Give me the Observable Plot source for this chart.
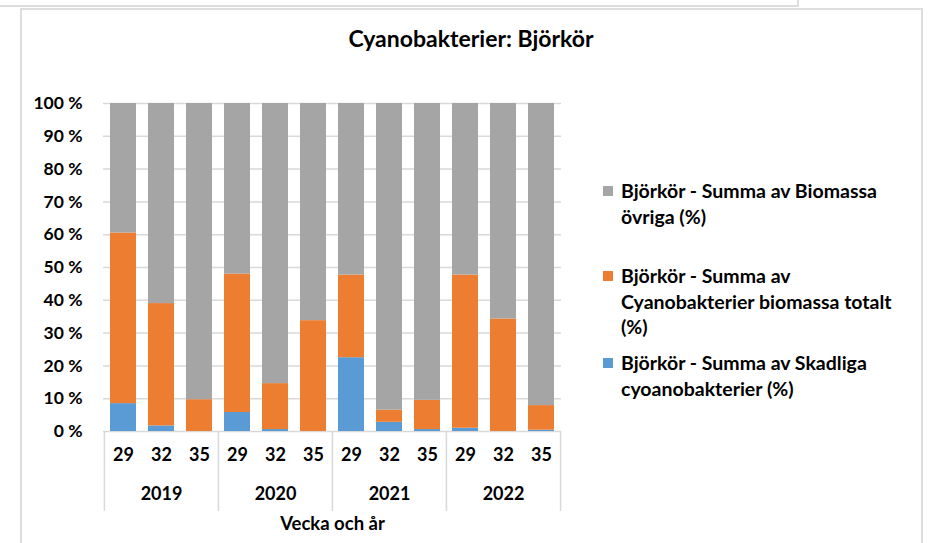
<!DOCTYPE html>
<html>
<head>
<meta charset="utf-8">
<script src="https://cdn.jsdelivr.net/npm/d3@7"></script>
<script src="https://cdn.jsdelivr.net/npm/@observablehq/plot@0.6"></script>
<style>
  html, body { margin: 0; padding: 0; background: #fff; }
  body { width: 928px; height: 543px; position: relative; overflow: hidden; font-family: Lato, "Open Sans", sans-serif; font-weight: bold; color: #000; }
  #frameTop { position: absolute; left: -10px; top: -20px; width: 805px; height: 23px; border: 2px solid #DDDDDD; }
  #frame { position: absolute; left: 20px; top: 8px; width: 899px; height: 600px; border: 2px solid #DDDDDD; }
  #title { position: absolute; left: 0; width: 942px; top: 24px; text-align: center; font-size: 23px; line-height: 28px; white-space: nowrap; }
  #chart { position: absolute; left: 0; top: 0; }
  .leg { position: absolute; left: 603px; font-size: 19.5px; line-height: 25.5px; white-space: nowrap; }
  .leg .sw { position: absolute; left: 0; top: 8px; width: 10px; height: 10px; }
  .leg .tx { position: absolute; left: 18px; top: 0; }
</style>
</head>
<body>
<div id="frameTop"></div>
<div id="frame"></div>
<div id="title">Cyanobakterier: Björkör</div>
<div id="chart"></div>
<div id="legend"></div>
<script>
// ---- Data ----
const years = ["2019", "2020", "2021", "2022"];
const weeks = ["29", "32", "35"];
const seriesNames = [
  "Björkör - Summa av Skadliga cyoanobakterier (%)",
  "Björkör - Summa av Cyanobakterier biomassa totalt (%)",
  "Björkör - Summa av Biomassa övriga (%)"
];
const seriesColors = ["#5B9BD5", "#ED7D31", "#A5A5A5"];
// segment values (%), one per week/year in order 2019-29 ... 2022-35
const skadliga   = [8.5, 1.7, 0.0, 5.8, 0.6, 0.0, 22.5, 2.8, 0.6, 1.0, 0.0, 0.4];
const cyanoTotal = [52.0, 37.3, 9.7, 42.2, 14.0, 33.8, 25.2, 3.7, 8.9, 46.7, 34.3, 7.5];
const ovriga     = [39.5, 61.0, 90.3, 52.0, 85.4, 66.2, 52.3, 93.5, 90.5, 52.3, 65.7, 92.1];
const yTicks = [0, 10, 20, 30, 40, 50, 60, 70, 80, 90, 100];
const xTitle = "Vecka och år";

// legend text lines as wrapped in the original
const legendLines = [
  ["Björkör - Summa av Biomassa", "övriga (%)"],
  ["Björkör - Summa av", "Cyanobakterier biomassa totalt", "(%)"],
  ["Björkör - Summa av Skadliga", "cyoanobakterier (%)"]
];
const legendColors = ["#A5A5A5", "#ED7D31", "#5B9BD5"];
const legendTops = [178, 263, 350];

// ---- Build table ----
const categories = years.flatMap(y => weeks.map(w => `${y}-${w}`));
const table = [];
categories.forEach((c, i) => {
  [skadliga, cyanoTotal, ovriga].forEach((arr, s) => {
    table.push({cat: c, series: seriesNames[s], value: arr[i]});
  });
});
const groupStarts = years.map(y => `${y}-${weeks[0]}`);
const lastCat = categories[categories.length - 1];

// ---- Layout ----
const W = 928, H = 543;
const mL = 103, mR = 367, mT = 103, mB = 112;
const step = (W - mL - mR) / categories.length;
const pxPerUnit = (H - mT - mB) / 100;
const sepDepth = 80 / pxPerUnit; // separator length below axis, in y units
const grid = "#D9D9D9";

const chart = Plot.plot({
  width: W, height: H,
  marginLeft: mL, marginRight: mR, marginTop: mT, marginBottom: mB,
  style: {fontFamily: "Lato, 'Open Sans', sans-serif", fontSize: "17.5px", fontWeight: "bold", color: "#000", background: "transparent", overflow: "visible"},
  x: {type: "band", domain: categories, paddingInner: 0.32, paddingOuter: 0.16, axis: null},
  y: {domain: [0, 100], ticks: yTicks, tickFormat: d => d + " %", tickSize: 0, tickPadding: 21, label: null},
  color: {domain: seriesNames, range: seriesColors},
  marks: [
    Plot.ruleY(yTicks, {stroke: grid, strokeWidth: 1.5}),
    Plot.barY(table, {x: "cat", y: "value", fill: "series"}),
    Plot.ruleX(groupStarts, {x: d => d, y1: 0, y2: -sepDepth, dx: -step / 2, stroke: grid, strokeWidth: 1.5}),
    Plot.ruleX([lastCat], {x: d => d, y1: 0, y2: -sepDepth, dx: step / 2, stroke: grid, strokeWidth: 1.5}),
    Plot.text(categories, {x: d => d, text: d => d.split("-")[1], frameAnchor: "bottom", dy: 29, fontSize: 18, fontWeight: "bold", fill: "#000"}),
    Plot.text(years, {x: d => `${d}-${weeks[1]}`, text: d => d, frameAnchor: "bottom", dy: 68, fontSize: 18, fontWeight: "bold", fill: "#000"}),
    Plot.text([xTitle], {text: d => d, frameAnchor: "bottom", dy: 98, fontSize: 18.5, fontWeight: "bold", fill: "#000"})
  ]
});
document.getElementById("chart").appendChild(chart);

// ---- Legend ----
const legend = document.getElementById("legend");
legendLines.forEach((lines, i) => {
  const d = document.createElement("div");
  d.className = "leg";
  d.style.top = legendTops[i] + "px";
  const sw = document.createElement("div");
  sw.className = "sw";
  sw.style.background = legendColors[i];
  const tx = document.createElement("div");
  tx.className = "tx";
  tx.innerHTML = lines.join("<br>");
  d.appendChild(sw); d.appendChild(tx);
  legend.appendChild(d);
});
</script>
</body>
</html>
